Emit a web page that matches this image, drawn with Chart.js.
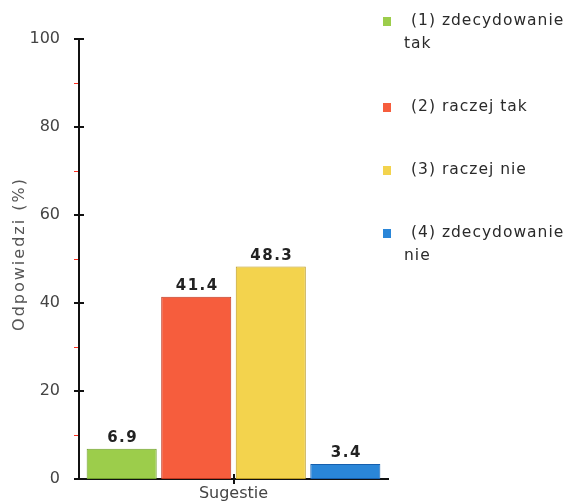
<!DOCTYPE html>
<html>
<head>
<meta charset="utf-8">
<script src="https://cdn.jsdelivr.net/npm/chart.js@4/dist/chart.umd.min.js"></script>
<style>
  html, body { margin: 0; padding: 0; background: #fff; }
  #wrap { position: relative; width: 583px; height: 504px; }
  #c { position: absolute; left: 0; top: 0; }
  #legend { position: absolute; left: 383px; top: 9px; width: 200px;
    font-family: "DejaVu Sans", sans-serif; font-size: 15.5px; color: #2a2a2a; letter-spacing: 1px; }
  .item { position: relative; line-height: 23px; margin-bottom: 40px; padding-left: 21px; }
  .sw { position: absolute; left: 0; top: 8px; width: 8px; height: 9px; }
  .txt { text-indent: 7px; width: 179px; }
</style>
</head>
<body>
<div id="wrap">
  <canvas id="c" width="583" height="504"></canvas>
  <div id="legend"></div>
</div>
<script>
const categories = ['Sugestie'];
const seriesLabels = ['(1) zdecydowanie tak', '(2) raczej tak', '(3) raczej nie', '(4) zdecydowanie nie'];
const seriesValues = [6.9, 41.4, 48.3, 3.4];
const yTicks = [0, 20, 40, 60, 80, 100];
const yMinorTicks = [10, 30, 50, 70, 90];
const yTitle = 'Odpowiedzi (%)';

const fillColors = ['#9ccd4b', '#f65d3d', '#f3d34d', '#2a86d8'];
const edgeColors = ['#6f9e2c', '#bf3820', '#bb9a22', '#155fae'];

const datasets = seriesLabels.map((lab, i) => ({
  label: lab,
  data: [seriesValues[i]],
  backgroundColor: fillColors[i],
  borderColor: edgeColors[i],
  borderWidth: 1,
  borderSkipped: false,
  categoryPercentage: 0.965,
  barPercentage: 0.94
}));

const decorPlugin = {
  id: 'decor',
  afterDraw(chart) {
    const ctx = chart.ctx;
    const y = chart.scales.y, x = chart.scales.x;
    const ax = chart.chartArea.left, ay = chart.chartArea.bottom;
    ctx.save();
    // minor ticks (red)
    ctx.strokeStyle = '#ff3020'; ctx.lineWidth = 1;
    yMinorTicks.forEach(v => {
      const py = Math.round(y.getPixelForValue(v)) + 0.5;
      ctx.beginPath(); ctx.moveTo(ax - 5, py); ctx.lineTo(ax - 1, py); ctx.stroke();
    });
    // major ticks crossing axis
    ctx.strokeStyle = '#111'; ctx.lineWidth = 2;
    yTicks.forEach(v => {
      const py = Math.round(y.getPixelForValue(v));
      ctx.beginPath(); ctx.moveTo(ax - 5, py); ctx.lineTo(ax + 5, py); ctx.stroke();
    });
    const cx = Math.round(x.getPixelForValue(0));
    ctx.beginPath(); ctx.moveTo(cx, ay - 5); ctx.lineTo(cx, ay + 5); ctx.stroke();
    // value labels
    ctx.fillStyle = '#222';
    ctx.font = 'bold 15px "DejaVu Sans", sans-serif';
    ctx.letterSpacing = '1.5px';
    ctx.textAlign = 'center'; ctx.textBaseline = 'bottom';
    chart.data.datasets.forEach((ds, i) => {
      const bar = chart.getDatasetMeta(i).data[0];
      ctx.fillText(String(ds.data[0]), bar.x + 1, bar.y - 3);
    });
    // y title
    ctx.fillStyle = '#555';
    ctx.font = '16px "DejaVu Sans", sans-serif';
    ctx.letterSpacing = '2px';
    ctx.textBaseline = 'middle';
    ctx.translate(20, 254);
    ctx.rotate(-Math.PI / 2);
    ctx.fillText(yTitle, 0, 0);
    ctx.restore();
  }
};

new Chart(document.getElementById('c'), {
  type: 'bar',
  data: { labels: categories, datasets },
  options: {
    responsive: false,
    animation: false,
    layout: { padding: { left: 0, right: 195, top: 39, bottom: 0 } },
    plugins: { legend: { display: false }, tooltip: { enabled: false } },
    scales: {
      x: {
        grid: { display: false, offset: false },
        border: { display: true, color: '#111', width: 2 },
        ticks: { color: '#444', font: { family: 'DejaVu Sans', size: 16 }, padding: -3 },
        afterFit(s) { s.height = 25; }
      },
      y: {
        min: 0, max: 100,
        grid: { display: false },
        border: { display: true, color: '#111', width: 2 },
        ticks: { stepSize: 20, color: '#444', font: { family: 'DejaVu Sans', size: 16 }, padding: 11 },
        afterFit(s) { s.width = 79; }
      }
    }
  },
  plugins: [decorPlugin]
});

const legend = document.getElementById('legend');
seriesLabels.forEach((lab, i) => {
  const it = document.createElement('div');
  it.className = 'item';
  const sw = document.createElement('div');
  sw.className = 'sw'; sw.style.background = fillColors[i];
  const t = document.createElement('div');
  t.className = 'txt'; t.textContent = lab;
  it.appendChild(sw); it.appendChild(t);
  legend.appendChild(it);
});
</script>
</body>
</html>
